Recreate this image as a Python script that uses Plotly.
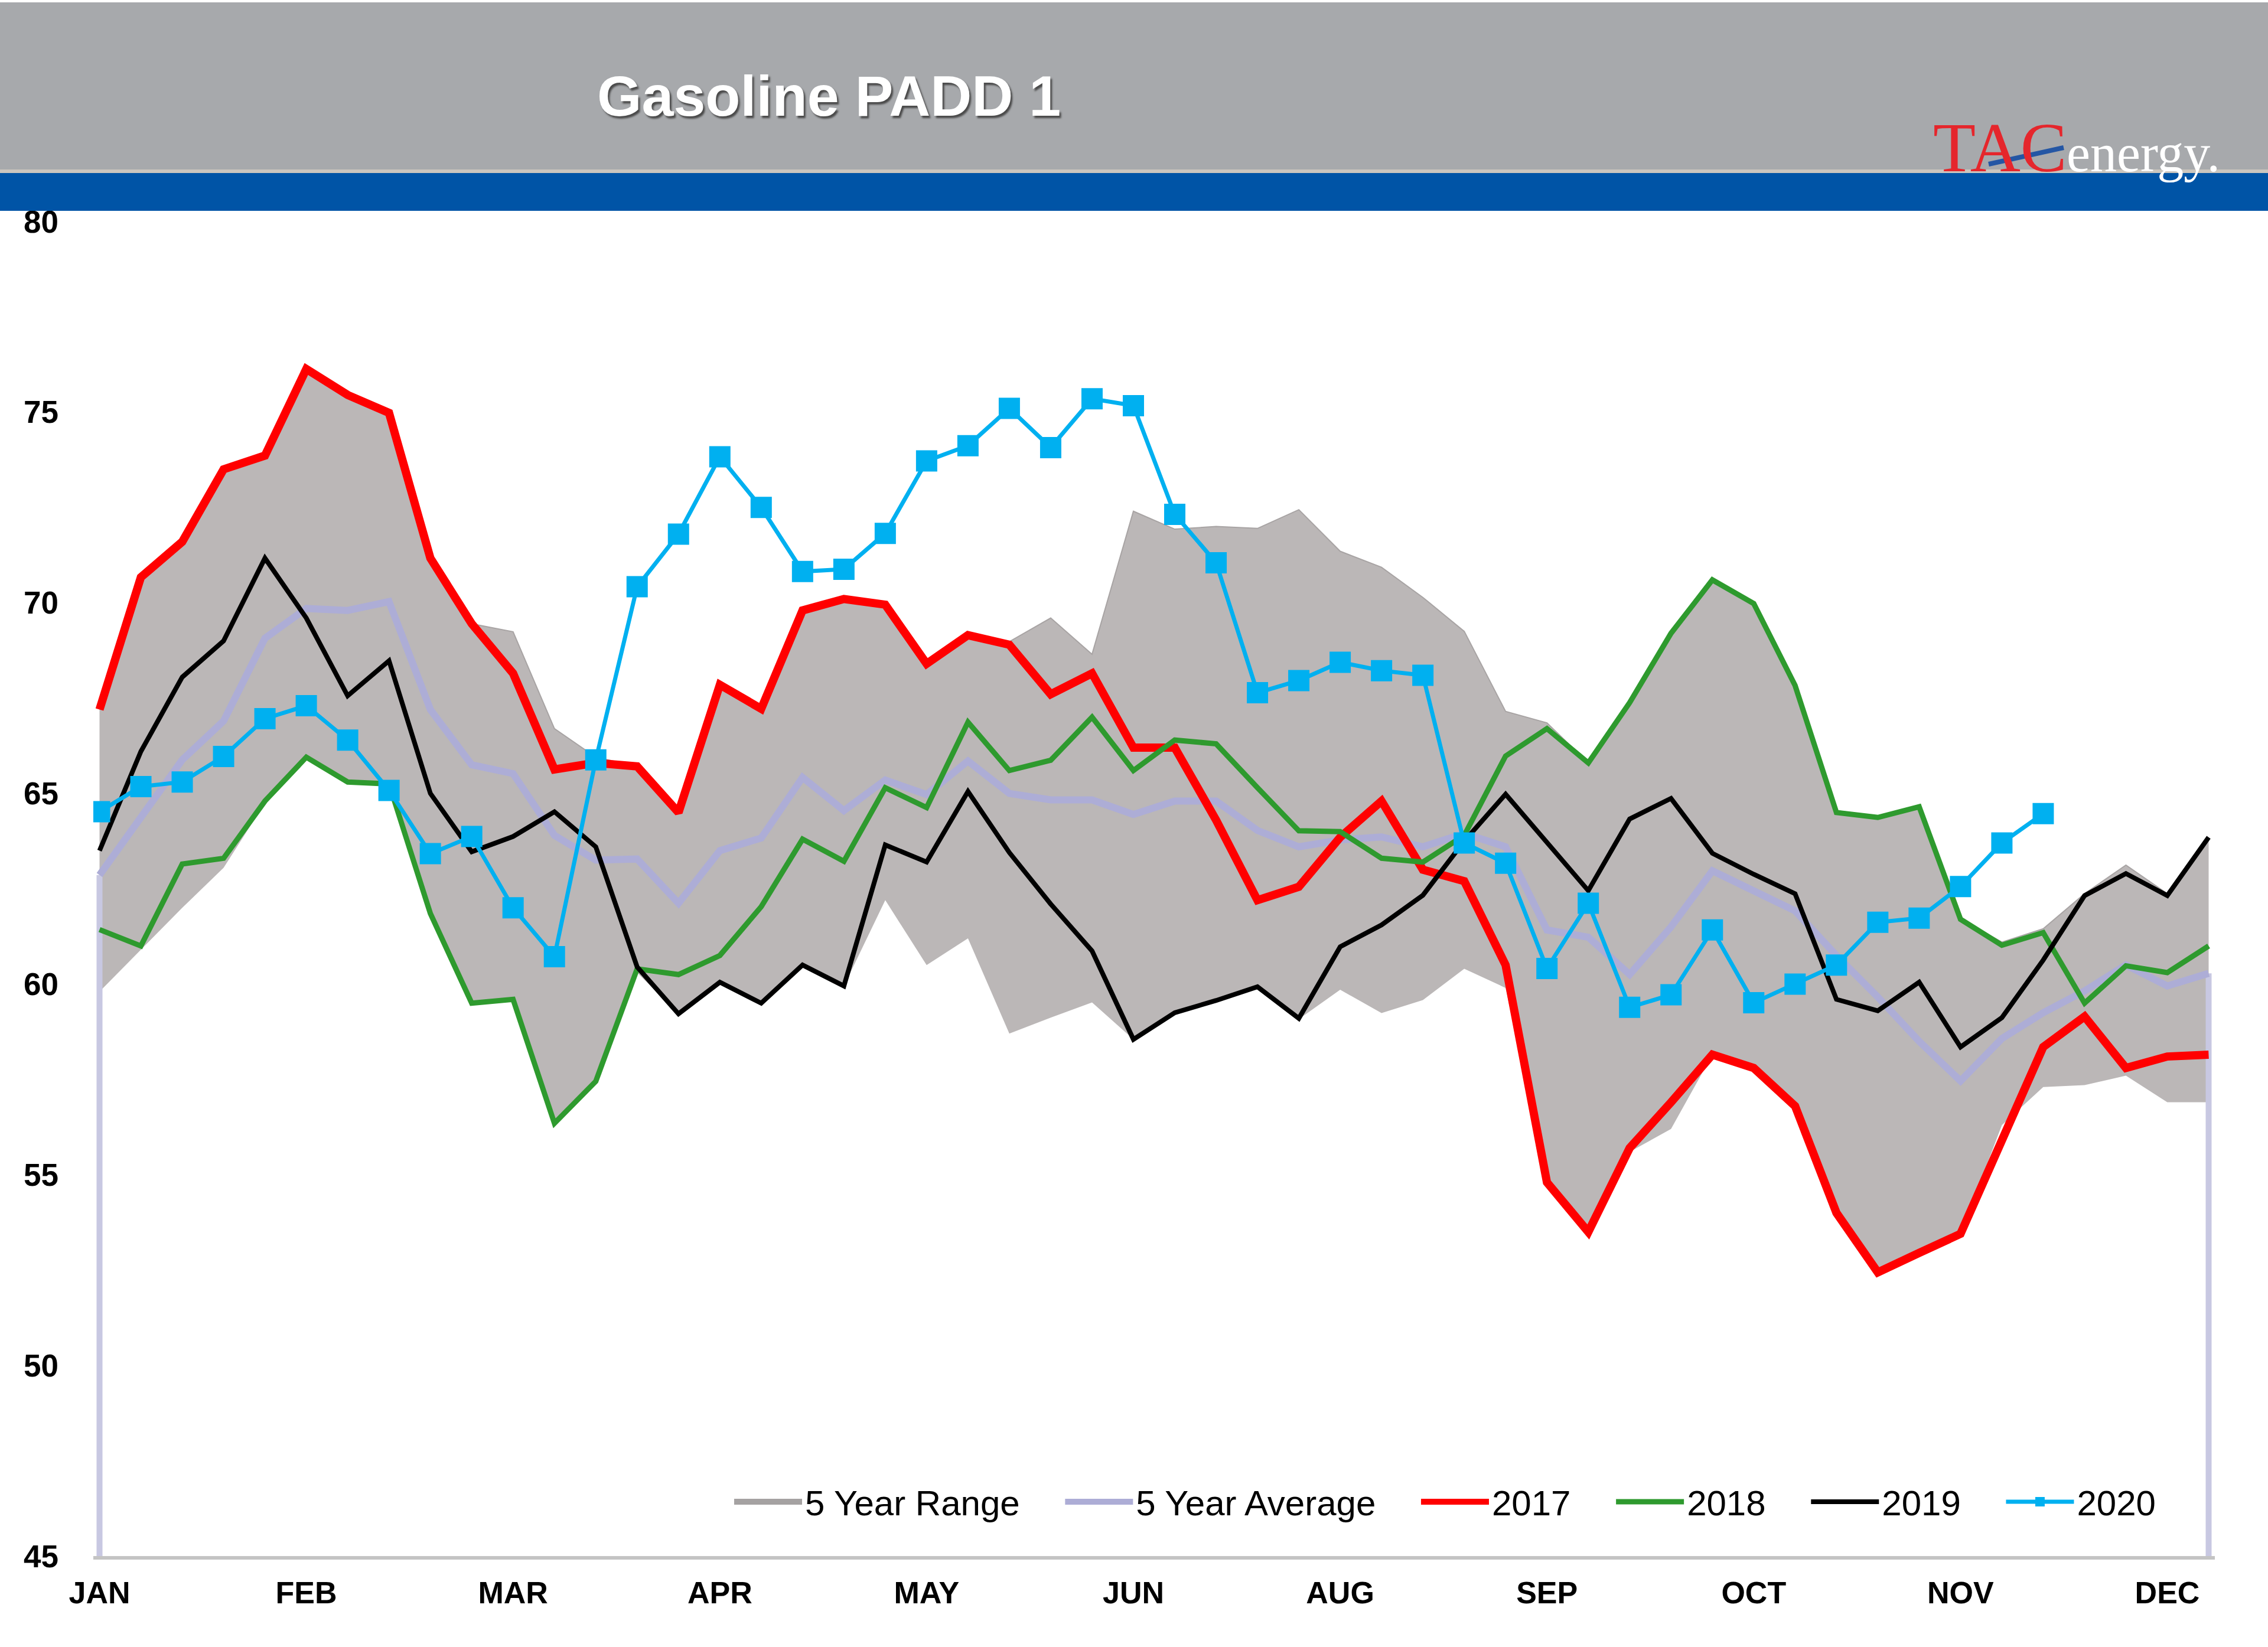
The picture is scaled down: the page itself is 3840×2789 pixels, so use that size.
import plotly.graph_objects as go

# ---------------- data ----------------
weeks = list(range(1, 53))
month_ticks = [1, 6, 11, 16, 21, 26, 31, 36, 41, 46, 51]
month_labels = ["JAN", "FEB", "MAR", "APR", "MAY", "JUN", "AUG", "SEP", "OCT", "NOV", "DEC"]

range_lo = [59.8, 60.9, 62.0, 63.05, 64.75, 65.9, 65.25, 65.2, 61.85, 59.5, 59.58, 56.35, 57.45,
            60.3, 59.22, 60.0, 59.5, 60.5, 59.95, 62.2, 60.5, 61.2, 58.7, 59.12, 59.52, 58.55,
            59.24, 59.57, 59.93, 59.08, 59.85, 59.24, 59.58, 60.4, 59.9, 54.8, 53.5, 55.6, 56.2,
            58.15, 57.8, 56.8, 54.0, 52.44, 52.95, 53.45, 56.3, 57.3, 57.35, 57.6, 56.9, 56.9]
range_hi = [67.2, 70.67, 71.6, 73.5, 73.86, 76.13, 75.45, 74.98, 71.17, 69.45, 69.24, 66.7, 65.95,
            65.71, 64.5, 67.85, 67.22, 69.8, 70.1, 69.95, 68.4, 69.15, 68.98, 69.6, 68.65, 72.4,
            71.93, 72.0, 71.95, 72.44, 71.35, 70.93, 70.14, 69.25, 67.15, 66.85, 65.8, 67.38, 69.2,
            70.6, 69.98, 67.83, 64.55, 64.4, 64.67, 61.72, 61.1, 61.45, 62.37, 63.12, 62.37, 63.82]
avg5 = [62.86, 64.37, 65.88, 66.9, 69.07, 69.85, 69.8, 70.03, 67.2, 65.75, 65.52, 63.9, 63.25,
        63.28, 62.12, 63.5, 63.83, 65.42, 64.55, 65.35, 64.97, 65.85, 65.0, 64.83, 64.83, 64.45,
        64.8, 64.8, 64.03, 63.6, 63.78, 63.86, 63.6, 63.95, 63.6, 61.42, 61.23, 60.25, 61.5,
        62.97, 62.47, 61.92, 60.75, 59.66, 58.5, 57.46, 58.57, 59.25, 59.82, 60.5, 59.95, 60.28]
y2017 = [67.2, 70.67, 71.6, 73.5, 73.86, 76.13, 75.45, 74.98, 71.17, 69.45, 68.15, 65.63, 65.8,
         65.71, 64.5, 67.85, 67.22, 69.8, 70.1, 69.95, 68.4, 69.15, 68.9, 67.6, 68.15, 66.2,
         66.2, 64.3, 62.2, 62.55, 63.85, 64.8, 63.0, 62.7, 60.5, 54.8, 53.5, 55.7, 56.9, 58.15,
         57.8, 56.8, 54.0, 52.44, 52.95, 53.45, 55.9, 58.35, 59.15, 57.8, 58.1, 58.15]
y2018 = [61.43, 61.0, 63.15, 63.3, 64.8, 65.95, 65.3, 65.25, 61.85, 59.5, 59.6, 56.35, 57.45,
         60.4, 60.25, 60.75, 62.03, 63.8, 63.22, 65.15, 64.63, 66.87, 65.6, 65.87, 67.0, 65.6,
         66.4, 66.3, 65.15, 64.02, 64.0, 63.3, 63.2, 63.9, 65.98, 66.7, 65.8, 67.38, 69.2, 70.6,
         69.98, 67.83, 64.5, 64.37, 64.65, 61.7, 61.02, 61.35, 59.5, 60.48, 60.3, 61.0]
y2019 = [63.5, 66.1, 68.05, 69.0, 71.17, 69.6, 67.56, 68.48, 65.0, 63.47, 63.87, 64.52, 63.6,
         60.45, 59.22, 60.05, 59.5, 60.5, 59.95, 63.65, 63.2, 65.05, 63.45, 62.1, 60.87, 58.55,
         59.25, 59.57, 59.93, 59.1, 60.98, 61.55, 62.33, 63.75, 64.98, 63.7, 62.45, 64.33, 64.87,
         63.43, 62.88, 62.37, 59.6, 59.3, 60.05, 58.35, 59.12, 60.63, 62.32, 62.9, 62.32, 63.85]
y2020 = [64.52, 65.18, 65.3, 65.97, 66.96, 67.3, 66.4, 65.08, 63.42, 63.87, 62.0, 60.72, 65.88,
         70.42, 71.8, 73.83, 72.5, 70.82, 70.88, 71.82, 73.72, 74.12, 75.1, 74.07, 75.35, 75.17,
         72.32, 71.05, 67.64, 67.96, 68.44, 68.22, 68.1, 63.7, 63.17, 60.41, 62.12, 59.39, 59.72,
         61.42, 59.51, 60.0, 60.5, 61.62, 61.73, 62.56, 63.7, 64.47, None, None, None, None]

y_min, y_max = 45, 80
y_ticks = [45, 50, 55, 60, 65, 70, 75, 80]

# ---------------- layout geometry ----------------
W, H = 3840, 2789
ML, MR, MT, MB = 158, 90, 375, 154
PW, PH = W - ML - MR, H - MT - MB


def xp(px):
    return (px - ML) / PW


def yp(py):
    return (H - MB - py) / PH


GAP = "\u00a0" * 4  # spacing between legend entries
AVG_C = "#ADADD6"
RANGE_C = "#BBB7B7"
fig = go.Figure()

# legend-only swatch for the range
fig.add_trace(go.Scatter(x=[None], y=[None], mode="lines", name="5 Year Range" + GAP,
                         line=dict(width=40, color="#A5A2A2")))
fig.add_trace(go.Scatter(x=weeks, y=range_lo, mode="lines", line=dict(width=0, color=RANGE_C),
                         showlegend=False, hoverinfo="skip"))
fig.add_trace(go.Scatter(x=weeks, y=range_hi, mode="lines", fill="tonexty", showlegend=False,
                         fillcolor=RANGE_C, line=dict(width=2, color="#A8A4A4")))
# edge drops of the average series down to the axis
fig.add_trace(go.Scatter(x=[weeks[0], weeks[0]], y=[y_min, avg5[0]], mode="lines",
                         line=dict(width=10, color="#C8C8E2"), showlegend=False, hoverinfo="skip"))
fig.add_trace(go.Scatter(x=[weeks[-1], weeks[-1]], y=[y_min, avg5[-1]], mode="lines",
                         line=dict(width=10, color="#C8C8E2"), showlegend=False, hoverinfo="skip"))
fig.add_trace(go.Scatter(x=weeks, y=avg5, mode="lines", name="5 Year Average" + GAP,
                         line=dict(width=12, color=AVG_C)))
fig.add_trace(go.Scatter(x=weeks, y=y2017, mode="lines", name="2017" + GAP,
                         line=dict(width=14, color="#FF0000")))
fig.add_trace(go.Scatter(x=weeks, y=y2018, mode="lines", name="2018" + GAP,
                         line=dict(width=9, color="#2E9A2E")))
fig.add_trace(go.Scatter(x=weeks, y=y2019, mode="lines", name="2019" + GAP,
                         line=dict(width=8, color="#000000")))
fig.add_trace(go.Scatter(x=weeks, y=y2020, mode="lines+markers", name="2020",
                         line=dict(width=7, color="#00B0F0"),
                         marker=dict(symbol="square", size=36, color="#00B0F0")))

shapes = [
    dict(type="rect", xref="paper", yref="paper", x0=xp(0), x1=xp(W), y0=yp(288), y1=yp(4),
         fillcolor="#A7A9AC", line=dict(width=0), layer="above"),
    dict(type="rect", xref="paper", yref="paper", x0=xp(0), x1=xp(W), y0=yp(293), y1=yp(287),
         fillcolor="#CBC6BE", line=dict(width=0), layer="above"),
    dict(type="rect", xref="paper", yref="paper", x0=xp(0), x1=xp(W), y0=yp(357), y1=yp(293),
         fillcolor="#0054A6", line=dict(width=0), layer="above"),
    dict(type="line", xref="paper", yref="paper", x0=xp(3367), x1=xp(3494), y0=yp(278), y1=yp(250),
         line=dict(width=8, color="#2456A4"), layer="above"),
]

annotations = [
    dict(text="Gasoline PADD 1", xref="paper", yref="paper", x=xp(1009), y=yp(163),
         xanchor="left", yanchor="middle", showarrow=False,
         font=dict(family="Liberation Sans", size=97, color="white", weight="bold",
                   shadow="3px 4px 3px #4A4A4A")),
    dict(text="TAC", xref="paper", yref="paper", x=xp(3502), y=yp(250),
         xanchor="right", yanchor="middle", showarrow=False,
         font=dict(family="Liberation Serif", size=118, color="#E5262C")),
    dict(text="energy.", xref="paper", yref="paper", x=xp(3497), y=yp(259),
         xanchor="left", yanchor="middle", showarrow=False,
         font=dict(family="Liberation Serif", size=90, color="white")),
]

fig.update_layout(
    width=W, height=H,
    margin=dict(l=ML, r=MR, t=MT, b=MB, pad=0),
    paper_bgcolor="white", plot_bgcolor="white",
    shapes=shapes, annotations=annotations,
    font=dict(family="Liberation Sans", color="black"),
    legend=dict(orientation="h", x=xp(3655), xanchor="right", y=yp(2543), yanchor="middle",
                font=dict(family="Liberation Sans", size=60, color="black"),
                bgcolor="rgba(0,0,0,0)", itemwidth=115, traceorder="normal"),
    xaxis=dict(range=[weeks[0] - 0.15, weeks[-1] + 0.15], tickvals=month_ticks, ticktext=month_labels,
               showgrid=False, zeroline=False, showline=True, linecolor="#C4C4C4", linewidth=6,
               ticks="", ticklabelstandoff=12,
               tickfont=dict(family="Liberation Sans", size=52, color="black", weight="bold")),
    yaxis=dict(range=[y_min, y_max], tickvals=y_ticks, showgrid=False, zeroline=False,
               showline=False, ticks="", ticklabelstandoff=58,
               tickfont=dict(family="Liberation Sans", size=53, color="black", weight="bold")),
)

fig.write_html("out.html")
